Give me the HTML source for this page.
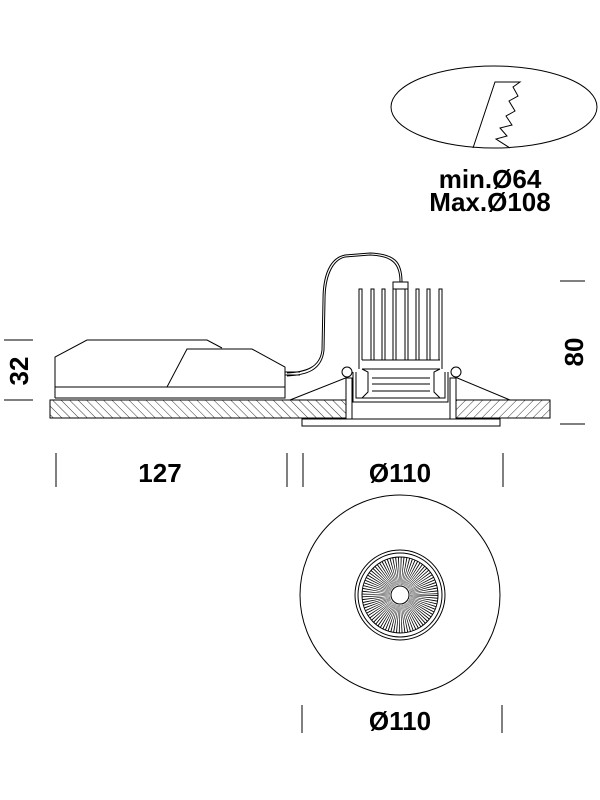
<!DOCTYPE html>
<html><head><meta charset="utf-8"><style>
html,body{margin:0;padding:0;background:#fff;}
svg{display:block}
text{font-family:"Liberation Sans",sans-serif;font-weight:bold;fill:#000}
</style></head><body>
<svg width="600" height="800" viewBox="0 0 600 800" xmlns="http://www.w3.org/2000/svg">
<defs>
<pattern id="h1" patternUnits="userSpaceOnUse" width="6" height="6" patternTransform="rotate(-45)">
<line x1="0" y1="0" x2="0" y2="6" stroke="#000" stroke-width="0.8"/></pattern>
<pattern id="h2" patternUnits="userSpaceOnUse" width="6" height="6" patternTransform="rotate(45)">
<line x1="0" y1="0" x2="0" y2="6" stroke="#000" stroke-width="0.8"/></pattern>
</defs>
<g fill="none" stroke="#000" stroke-width="1">
<ellipse cx="494" cy="107" rx="103" ry="41"/>
<polyline points="473,148 495,82 520,82 513,87 518,96 509,101 515,111 506,116 512,125 500,128 507,136 496,139 510,148"/>
<rect x="50" y="400" width="296" height="18" fill="url(#h1)"/>
<rect x="456" y="400" width="94" height="18" fill="url(#h2)"/>
<rect x="302" y="419" width="198" height="7" fill="#fff"/>
<path d="M55,398 V357 L87,340 H207 L222,348" />
<path d="M167,387 L187,349 H252 L285,367 V398 H55"/>
<line x1="55" y1="387" x2="285" y2="387"/>
<line x1="285" y1="372" x2="300" y2="372"/><line x1="285" y1="375" x2="300" y2="375"/>
<rect x="346" y="378" width="6" height="41" fill="#fff"/>
<rect x="450" y="378" width="6" height="41" fill="#fff"/>
<path d="M353,372 V402 H448 V372"/>
<path d="M356,372 V398 H445 V372"/>
<line x1="362" y1="369" x2="440" y2="369"/>
<line x1="372" y1="378" x2="430" y2="378"/>
<line x1="372" y1="384" x2="430" y2="384"/>
<line x1="372" y1="391" x2="430" y2="391"/>
<path d="M362,369 L368,372 V392 L362,398"/>
<path d="M440,369 L434,372 V392 L440,398"/>
<g>
<path d="M359,369 V289 H362 V360"/>
<path d="M371,360 V289 H374 V360"/>
<path d="M382,360 V289 H385 V360"/>
<path d="M416,360 V289 H419 V360"/>
<path d="M427,360 V289 H430 V360"/>
<path d="M439,360 V289 H442 V369"/>
<path d="M393,360 V289 M396,360 V289 M405,360 V289 M408,360 V289"/>
<line x1="362" y1="360" x2="440" y2="360"/>
</g>
<rect x="393" y="282" width="15" height="7" fill="#fff"/>
<path d="M402,282 C402,262 395,254 370,253 L345,255 C330,258 323,275 323,300 L322,350 C320,368 305,372 287,373"/>
<path d="M400,282 C400,264 393,256 370,255 L345,257 C332,260 325,277 325,300 L324,350 C322,370 307,375 287,376"/>
<circle cx="347" cy="372" r="5"/><circle cx="456" cy="372" r="5"/>
<line x1="348" y1="377" x2="290" y2="400"/>
<line x1="455" y1="377" x2="510" y2="400"/>
<line x1="4" y1="340" x2="33" y2="340"/><line x1="4" y1="400" x2="33" y2="400"/>
<line x1="560" y1="281" x2="585" y2="281"/><line x1="560" y1="424" x2="585" y2="424"/>
<line x1="56" y1="453" x2="56" y2="487"/><line x1="287" y1="453" x2="287" y2="487"/>
<line x1="303" y1="453" x2="303" y2="487"/><line x1="503" y1="453" x2="503" y2="487"/>
<line x1="302" y1="705" x2="302" y2="733"/><line x1="502" y1="705" x2="502" y2="733"/>
<circle cx="400" cy="595" r="100"/>
<circle cx="400" cy="595" r="45"/>
<circle cx="400" cy="595" r="42"/>
<circle cx="400" cy="595" r="38"/>
<circle cx="400" cy="595" r="24" stroke-width="28" stroke-dasharray="0.6 1.2"/>
<circle cx="400" cy="595" r="9" fill="#fff"/>
</g>
<text x="490" y="188" font-size="26" text-anchor="middle">min.Ø64</text>
<text x="490" y="211" font-size="26" text-anchor="middle">Max.Ø108</text>
<text x="160" y="482" font-size="26" text-anchor="middle">127</text>
<text x="400" y="482" font-size="26" text-anchor="middle">Ø110</text>
<text x="400" y="730" font-size="26" text-anchor="middle">Ø110</text>
<text transform="translate(28,371) rotate(-90)" font-size="26" text-anchor="middle">32</text>
<text transform="translate(583,352) rotate(-90)" font-size="26" text-anchor="middle">80</text>
</svg>
</body></html>
